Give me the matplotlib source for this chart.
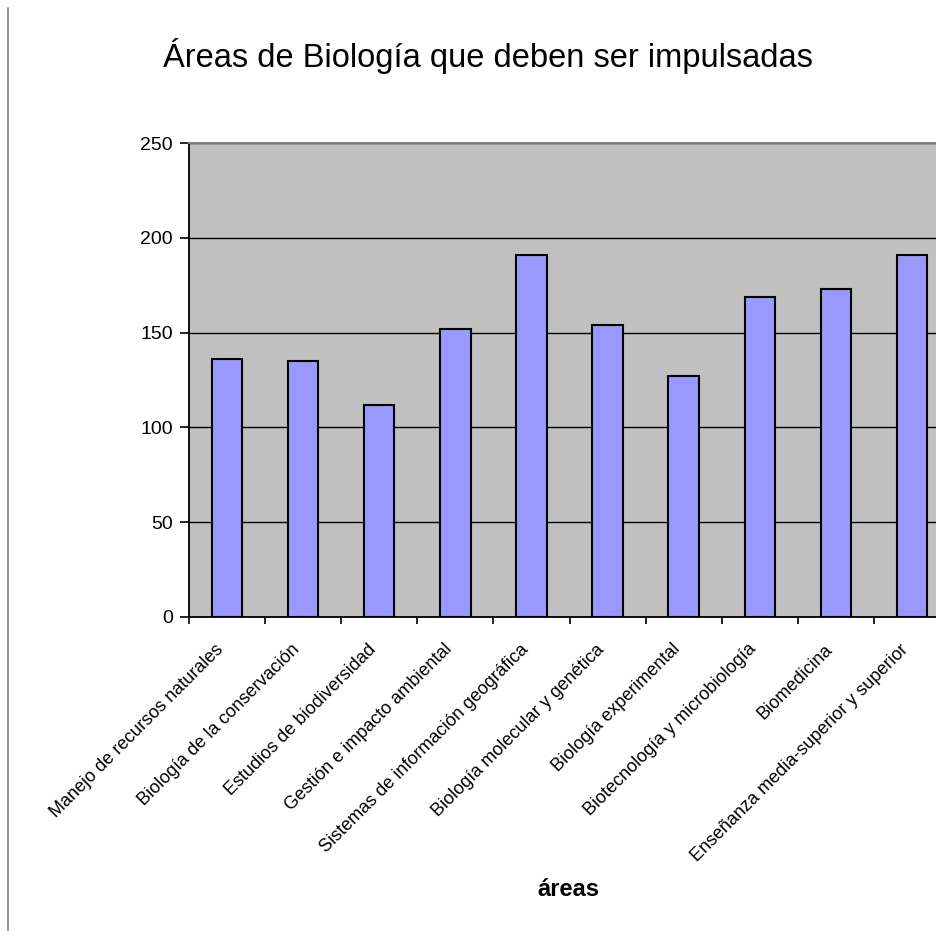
import matplotlib
matplotlib.use("Agg")
import numpy as np
from matplotlib import pyplot as plt
from matplotlib.lines import Line2D

plt.rcParams["font.family"] = ["Liberation Sans", "DejaVu Sans"]

# data
areas = [
    "Manejo de recursos naturales",
    "Biología de la conservación",
    "Estudios de biodiversidad",
    "Gestión e impacto ambiental",
    "Sistemas de información geográfica",
    "Biología molecular y genética",
    "Biología experimental",
    "Biotecnología y microbiología",
    "Biomedicina",
    "Enseñanza media-superior y superior",
]
votos = [136, 135, 112, 152, 191, 154, 127, 169, 173, 191]
yticks = [0, 50, 100, 150, 200, 250]

fig = plt.figure(figsize=(9.37, 9.31), dpi=100)
# plot area runs off the right edge, like the original screenshot
ax = fig.add_axes([189 / 937, 314.3 / 931, 761 / 937, 473.4 / 931])

x = np.arange(len(areas))
ax.set_facecolor("#c0c0c0")
ax.bar(x, votos, width=0.4, color="#9999ff", edgecolor="black", linewidth=1.5, zorder=3)

ax.set_ylim(0, 250)
ax.set_xlim(-0.5, len(areas) - 0.5)
ax.set_yticks(yticks)
ax.set_yticklabels([str(v) for v in yticks], fontsize=14)
ax.grid(axis="y", color="black", linewidth=1, zorder=1)
ax.set_axisbelow(True)

ax.set_xticks(x)
ax.set_xticklabels(areas, fontsize=13, rotation=45, ha="right", va="bottom",
                   rotation_mode="anchor")
ax.set_xticks(np.arange(len(areas) + 1) - 0.5, minor=True)
ax.tick_params(axis="x", which="major", length=0, pad=26)
ax.tick_params(axis="x", which="minor", length=5, width=1.2, direction="out")
ax.tick_params(axis="y", length=6.5, width=1.2, direction="out", pad=5)

ax.spines["right"].set_visible(False)
ax.spines["top"].set_color("#808080")
ax.spines["top"].set_linewidth(1.5)
ax.spines["left"].set_linewidth(1.3)
ax.spines["bottom"].set_linewidth(1.3)

fig.text(488 / 937, 1 - 56 / 931, "Áreas de Biología que deben ser impulsadas",
         fontsize=23.5, ha="center", va="center")
fig.text(568 / 937, 1 - 889 / 931, "áreas", fontsize=17, fontweight="bold",
         ha="center", va="center")

# grey border of the chart area on the left
fig.add_artist(Line2D([8 / 937, 8 / 937], [0, 1 - 8 / 931], color="#808080",
                      linewidth=1.2, transform=fig.transFigure))

fig.savefig("out.png", dpi=100)
